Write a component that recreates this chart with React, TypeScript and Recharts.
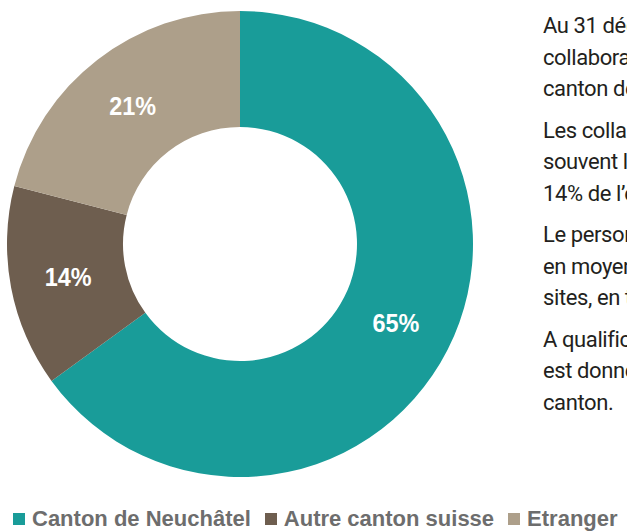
import { Cell, Legend, Pie, PieChart } from "recharts";

const categories = ["Canton de Neuchâtel", "Autre canton suisse", "Etranger"];
const shares = [65, 14, 21];

// Side text, clipped by the right edge just like in the report layout.
const paragraphs = [
  ["Au 31 décembre, 65% des", "collaborateurs résidaient dans le", "canton de Neuchâtel."],
  ["Les collaborateurs venaient le plus", "souvent limitrophes ; seuls", "14% de l’effectif vivent ailleurs."],
  ["Le personnel parcourt chaque jour", "en moyenne une vingtaine de km", "sites, en tenant compte des trajets."],
  ["A qualification égale, la priorité", "est donnée aux personnes du", "canton."],
];

const COLORS = ["#199c99", "#6e5e4f", "#ad9f8a"];
const RADIAN = Math.PI / 180;

const data = categories.map((name, i) => ({ name, value: shares[i] }));

// Percentages sit in the middle of the ring, white and slightly condensed.
function RingLabel(props: any) {
  const { cx, cy, midAngle, innerRadius, outerRadius, value } = props;
  const r = (innerRadius + outerRadius) / 2;
  const x = cx + r * Math.cos(-midAngle * RADIAN);
  const y = cy + r * Math.sin(-midAngle * RADIAN);
  return (
    <text
      transform={`translate(${x} ${y}) scale(0.9 1)`}
      x={0}
      y={0}
      fill="#ffffff"
      textAnchor="middle"
      dominantBaseline="central"
      fontFamily="'Liberation Sans', Arial, sans-serif"
      fontWeight="bold"
      fontSize={26}
    >
      {`${value}%`}
    </text>
  );
}

function LegendRow() {
  return (
    <div
      style={{
        display: "flex",
        alignItems: "center",
        fontFamily: "'Liberation Sans', Arial, sans-serif",
        fontWeight: "bold",
        fontSize: 22,
        lineHeight: "22px",
        color: "#6d6d6d",
        whiteSpace: "nowrap",
      }}
    >
      {categories.map((name, i) => (
        <span key={name} style={{ display: "flex", alignItems: "center", marginRight: 14 }}>
          <span
            style={{ width: 12, height: 12, background: COLORS[i], marginRight: 7, display: "inline-block" }}
          />
          {name}
        </span>
      ))}
    </div>
  );
}

export default function App() {
  return (
    <div
      style={{
        position: "absolute",
        left: 0,
        top: 0,
        width: 627,
        height: 532,
        background: "#ffffff",
        overflow: "hidden",
      }}
    >
      <PieChart width={627} height={532} margin={{ top: 0, right: 0, bottom: 0, left: 0 }}>
        <Pie
          data={data}
          dataKey="value"
          nameKey="name"
          cx={240}
          cy={244}
          innerRadius={117}
          outerRadius={233}
          startAngle={90}
          endAngle={-270}
          stroke="none"
          labelLine={false}
          label={RingLabel}
          isAnimationActive={false}
        >
          {data.map((d, i) => (
            <Cell key={d.name} fill={COLORS[i]} />
          ))}
        </Pie>
        <Legend
          content={LegendRow}
          wrapperStyle={{ position: "absolute", left: 13, top: 508, width: 614, margin: 0 }}
        />
      </PieChart>
      <div
        style={{
          position: "absolute",
          left: 543,
          top: 10,
          width: 84,
          overflow: "hidden",
          fontFamily: "Roboto, sans-serif",
          fontSize: 22,
          letterSpacing: -0.4,
          lineHeight: "31.5px",
          color: "#231f20",
          whiteSpace: "nowrap",
        }}
      >
        {paragraphs.map((lines, p) => (
          <div key={p} style={{ marginBottom: 10 }}>
            {lines.map((line) => (
              <div key={line}>{line}</div>
            ))}
          </div>
        ))}
      </div>
    </div>
  );
}
